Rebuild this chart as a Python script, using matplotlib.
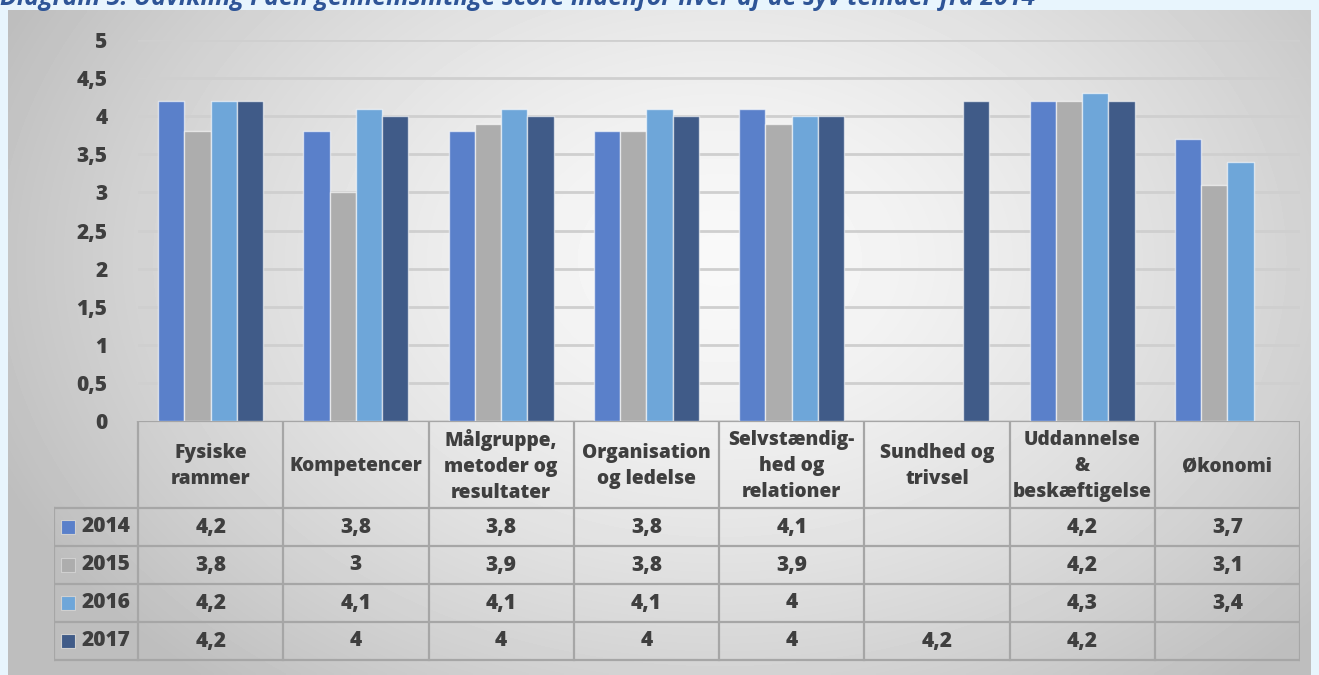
import matplotlib.pyplot as plt
import numpy as np

# data
categories = ['Fysiske\nrammer', 'Kompetencer', 'Målgruppe,\nmetoder og\nresultater',
              'Organisation\nog ledelse', 'Selvstændig-\nhed og\nrelationer',
              'Sundhed og\ntrivsel', 'Uddannelse\n&\nbeskæftigelse', 'Økonomi']
years = ['2014', '2015', '2016', '2017']
v2014 = [4.2, 3.8, 3.8, 3.8, 4.1, np.nan, 4.2, 3.7]
v2015 = [3.8, 3.0, 3.9, 3.8, 3.9, np.nan, 4.2, 3.1]
v2016 = [4.2, 4.1, 4.1, 4.1, 4.0, np.nan, 4.3, 3.4]
v2017 = [4.2, 4.0, 4.0, 4.0, 4.0, 4.2, 4.2, np.nan]
series = [v2014, v2015, v2016, v2017]
colors = ['#5a80ca', '#adadad', '#6ea6d9', '#405b88']
yticks = [0, 0.5, 1, 1.5, 2, 2.5, 3, 3.5, 4, 4.5, 5]
title = 'Diagram 5: Udvikling i den gennemsnitlige score indenfor hver af de syv temaer fra 2014'

plt.rcParams['font.family'] = ['Open Sans', 'DejaVu Sans']
txt = '#3f3f3f'
line_c = '#a6a6a6'

W, H = 1319, 675
fig = plt.figure(figsize=(W / 100, H / 100), dpi=100)
fig.patch.set_facecolor('#e8f5fd')


def px(x0, y0, x1, y1):
    return [x0 / W, 1 - y1 / H, (x1 - x0) / W, (y1 - y0) / H]


# radial grey background of the chart area
bg = fig.add_axes(px(8, 10, 1311, 675))
xx, yy = np.meshgrid(np.linspace(8, 1311, 400), np.linspace(10, 675, 200))
r = np.sqrt(((xx - 720) / 780) ** 2 + ((yy - 260) / 560) ** 2)
shade = 0.975 - 0.23 * np.clip(r, 0, 1) ** 1.5
bg.imshow(shade, cmap='gray', vmin=0, vmax=1, aspect='auto', interpolation='bilinear')
bg.axis('off')

# bars
ax = fig.add_axes(px(138, 40, 1300, 421))
ax.set_facecolor('none')
x = np.arange(len(categories))
bw = 0.181
for i, (vals, c) in enumerate(zip(series, colors)):
    ax.bar(x + (i - 1.5) * bw, vals, bw, color=c, edgecolor=(1, 1, 1, 0.6),
           linewidth=1, zorder=3)
ax.set_xlim(-0.5, len(categories) - 0.5)
ax.set_ylim(0, 5)
ax.set_yticks(yticks)
ax.set_yticklabels([f'{t:g}'.replace('.', ',') for t in yticks],
                   fontsize=15, fontweight='heavy', color=txt)
ax.tick_params(axis='y', length=0, pad=22)
ax.set_xticks([])
ax.yaxis.grid(True, color='#cfcfcf', linewidth=2, zorder=0)
for s in ax.spines.values():
    s.set_visible(False)

# data table underneath
tab = fig.add_axes(px(54, 421, 1300, 662))
tab.set_facecolor('none')
left = -0.5 - 84 / 145.25
tab.set_xlim(left, len(categories) - 0.5)
tab.set_ylim(662, 421)
tab.axis('off')
row_edges = [421, 508, 546, 584, 622, 660]
for yb in row_edges:
    x0 = -0.5 if yb == 421 else left
    tab.plot([x0, len(categories) - 0.5], [yb, yb], color=line_c, lw=1.6)
for k in range(len(categories) + 1):
    tab.plot([k - 0.5, k - 0.5], [421, 660], color=line_c, lw=1.6)
tab.plot([left, left], [508, 660], color=line_c, lw=1.6)

for k, cat in enumerate(categories):
    tab.text(k, 466, cat, ha='center', va='center', fontsize=13.8,
             fontweight='heavy', color=txt, linespacing=1.4)
for j, (yr, vals, c) in enumerate(zip(years, series, colors)):
    yc = (row_edges[j + 1] + row_edges[j + 2]) / 2
    tab.scatter([left + 0.095], [yc], marker='s', s=100, color=c,
                edgecolor='#d0d0d0', linewidth=0.8)
    tab.text(left + 0.19, yc, yr, ha='left', va='center', fontsize=15,
             fontweight='heavy', color=txt)
    for k, v in enumerate(vals):
        if not np.isnan(v):
            tab.text(k, yc, f'{v:g}'.replace('.', ','), ha='center', va='center',
                     fontsize=15, fontweight='heavy', color=txt)

# title, cut off at the top edge as in the source
fig.text(0, 1 - 5 / H, title, ha='left', va='baseline', fontsize=18,
         style='italic', fontweight='bold', color='#2e5597')

fig.savefig('out.png', dpi=100, facecolor=fig.get_facecolor())
